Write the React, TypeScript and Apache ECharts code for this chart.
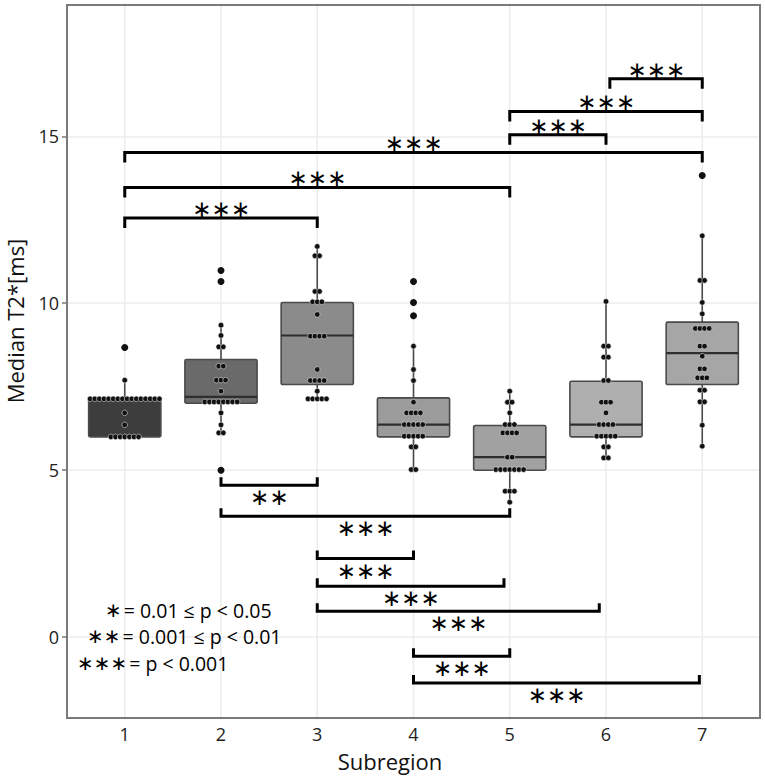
import React, { useEffect, useRef } from 'react';
import * as echarts from 'echarts';

// ---------- data ----------
const categories = [1, 2, 3, 4, 5, 6, 7];
const xTickLabels = ['1', '2', '3', '4', '5', '6', '7'];
const yTickValues = [0, 5, 10, 15];

// [min whisker, Q1, median, Q3, max whisker]
const box1 = [5.99, 5.99, 7.13, 7.15, 7.69];
const box2 = [6.09, 7.0, 7.19, 8.31, 9.34];
const box3 = [7.13, 7.56, 9.03, 10.02, 11.7];
const box4 = [5.0, 5.99, 6.36, 7.16, 8.71];
const box5 = [4.03, 4.99, 5.38, 6.33, 7.36];
const box6 = [5.36, 5.99, 6.36, 7.66, 10.05];
const box7 = [5.71, 7.56, 8.5, 9.43, 12.02];
const boxStats = [box1, box2, box3, box4, box5, box6, box7];
const boxColors = ['#3d3d3d', '#6a6a6a', '#8b8b8b', '#9b9b9b', '#a1a1a1', '#afafaf', '#a6a6a6'];

// dot rows per subregion: [value, number of points]
const dots1 = [[8.67, 1], [7.69, 1], [7.13, 16], [6.71, 1], [6.35, 1], [5.99, 7]];
const dots2 = [[10.98, 1], [10.65, 1], [9.34, 1], [9.03, 1], [8.69, 2], [8.11, 2], [7.69, 3], [7.36, 1], [7.04, 8], [6.71, 1], [6.35, 1], [6.11, 2], [4.99, 1]];
const dots3 = [[11.7, 1], [11.42, 2], [10.35, 2], [10.04, 3], [9.66, 1], [9.01, 4], [8.01, 1], [7.68, 4], [7.36, 1], [7.13, 5]];
const dots4 = [[10.65, 1], [10.02, 1], [9.62, 1], [8.71, 1], [8.01, 1], [7.68, 1], [7.03, 1], [6.71, 4], [6.36, 5], [6.01, 5], [5.69, 2], [5.01, 2]];
const dots5 = [[7.36, 1], [7.03, 2], [6.71, 1], [6.36, 3], [6.11, 4], [5.38, 2], [5.01, 7], [4.36, 3], [4.03, 1]];
const dots6 = [[10.05, 1], [8.71, 2], [8.38, 2], [7.68, 2], [7.03, 3], [6.71, 1], [6.36, 4], [6.01, 5], [5.69, 2], [5.36, 2]];
const dots7 = [[13.83, 1], [12.02, 1], [10.68, 2], [10.02, 1], [9.68, 1], [9.24, 4], [8.71, 2], [8.41, 1], [8.03, 2], [7.76, 3], [7.39, 2], [7.04, 2], [6.34, 1], [5.71, 1]];
const dotGroups = [dots1, dots2, dots3, dots4, dots5, dots6, dots7];

// boxplot outliers: [subregion, value]
const outliers = [[1, 8.67], [2, 10.98], [2, 10.65], [2, 4.99], [4, 10.65], [4, 10.02], [4, 9.62], [7, 13.83]];

// significance brackets: [from, to, y]
const topBrackets = [[6.04, 7, 16.73], [5, 7, 15.75], [5, 6, 15.05], [1, 7, 14.52], [1, 5, 13.47], [1, 3, 12.55]];
const topLabels = ['∗∗∗', '∗∗∗', '∗∗∗', '∗∗∗', '∗∗∗', '∗∗∗'];
const bottomBrackets = [[2, 3, 4.54], [2, 5, 3.61], [3, 4, 2.34], [3, 4.94, 1.51], [3, 5.93, 0.76], [4, 5, -0.59], [4, 6.97, -1.39]];
const bottomLabels = ['∗∗', '∗∗∗', '∗∗∗', '∗∗∗', '∗∗∗', '∗∗∗', '∗∗∗'];

const legendStars = ['∗', '∗∗', '∗∗∗'];
const legendTexts = ['= 0.01 ≤ p < 0.05', '= 0.001 ≤ p < 0.01', '= p < 0.001'];

const xTitle = 'Subregion';
const yTitle = 'Median T2*[ms]';

const DOT_STEP = 0.048;
const FONT = 'Open Sans';
const STAR_FONT = 'DejaVu Sans';

export default function App() {
  const ref = useRef<HTMLDivElement>(null);
  useEffect(() => {
    if (!ref.current) return;
    const chart = echarts.init(ref.current, null, { renderer: 'svg' });

    const dotData: number[][] = [];
    dotGroups.forEach((rows, gi) => {
      rows.forEach(([v, n]) => {
        for (let k = 0; k < n; k++) {
          dotData.push([categories[gi] + (k - (n - 1) / 2) * DOT_STEP, v]);
        }
      });
    });

    const bracketData = [
      ...topBrackets.map((b) => [b[0], b[1], b[2], 1]),
      ...bottomBrackets.map((b) => [b[0], b[1], b[2], -1]),
    ];
    const bracketLabels = [...topLabels, ...bottomLabels];

    const legendGraphics = legendStars.map((s, i) => ({
      type: 'text',
      left: [105, 87, 77][i],
      top: [600, 626, 653][i],
      z: 20,
      style: {
        text: `{a|${s}}{b|${legendTexts[i]}}`,
        rich: {
          a: { fontFamily: STAR_FONT, fontSize: 20, fill: '#000', padding: [0, 2, 0, 0], lineHeight: 18 },
          b: { fontFamily: FONT, fontSize: 19.5, fill: '#000', lineHeight: 18 },
        },
      },
    }));

    chart.setOption({
      animation: false,
      backgroundColor: '#fff',
      grid: { left: 67, right: 5, top: 3, bottom: 57 },
      xAxis: {
        type: 'value',
        min: 0.4,
        max: 7.6,
        axisLine: { show: false },
        axisTick: { show: false },
        splitLine: { show: false },
        axisLabel: {
          customValues: categories,
          formatter: (v: number) => xTickLabels[categories.indexOf(Math.round(v))] ?? '',
          fontFamily: FONT,
          fontSize: 18,
          color: '#222',
          margin: 5,
        },
      },
      yAxis: {
        type: 'value',
        min: -2.5,
        max: 19,
        interval: 2.5,
        axisLine: { show: false },
        axisTick: { show: true, customValues: yTickValues, length: 5, lineStyle: { color: '#777', width: 1.5 } },
        splitLine: { show: true, lineStyle: { color: '#ececec', width: 1.5 } },
        axisLabel: {
          customValues: yTickValues,
          fontFamily: FONT,
          fontSize: 18,
          color: '#222',
          margin: 8,
        },
      },
      series: [
        {
          type: 'custom',
          z: 0,
          silent: true,
          data: categories.map((c) => [c, 0]),
          encode: { x: 0, y: 1 },
          renderItem: (params: any, api: any) => {
            const p = api.coord([api.value(0), 0]);
            const cs = params.coordSys;
            return {
              type: 'line',
              shape: { x1: p[0], y1: cs.y, x2: p[0], y2: cs.y + cs.height },
              style: { stroke: '#ececec', lineWidth: 1.5 },
            };
          },
        },
        {
          type: 'custom',
          z: 2,
          silent: true,
          data: boxStats.map((s, i) => [categories[i], ...s]),
          encode: { x: 0, y: [1, 2, 3, 4, 5] },
          renderItem: (params: any, api: any) => {
            const x = api.value(0);
            const pMin = api.coord([x, api.value(1)]);
            const pQ1 = api.coord([x, api.value(2)]);
            const pMed = api.coord([x, api.value(3)]);
            const pQ3 = api.coord([x, api.value(4)]);
            const pMax = api.coord([x, api.value(5)]);
            const half = api.size([1, 0])[0] * 0.375;
            const cx = pMin[0];
            const ls = { stroke: '#4a4a4a', lineWidth: 1.6 };
            return {
              type: 'group',
              children: [
                { type: 'line', shape: { x1: cx, y1: pMax[1], x2: cx, y2: pQ3[1] }, style: ls },
                { type: 'line', shape: { x1: cx, y1: pQ1[1], x2: cx, y2: pMin[1] }, style: ls },
                {
                  type: 'rect',
                  shape: { x: cx - half, y: pQ3[1], width: half * 2, height: pQ1[1] - pQ3[1], r: 1.5 },
                  style: { fill: boxColors[params.dataIndex], stroke: '#4a4a4a', lineWidth: 1.6 },
                },
                {
                  type: 'line',
                  shape: { x1: cx - half, y1: pMed[1], x2: cx + half, y2: pMed[1] },
                  style: { stroke: '#2e2e2e', lineWidth: 2.2 },
                },
              ],
            };
          },
        },
        {
          type: 'scatter',
          z: 3,
          silent: true,
          symbolSize: 5.5,
          data: dotData,
          itemStyle: { color: '#111', borderColor: 'rgba(225,225,225,0.75)', borderWidth: 0.8, opacity: 1 },
        },
        {
          type: 'scatter',
          z: 4,
          silent: true,
          symbolSize: 7,
          data: outliers,
          itemStyle: { color: '#111', opacity: 1 },
        },
        {
          type: 'custom',
          z: 5,
          silent: true,
          data: bracketData,
          encode: { x: [0, 1], y: 2 },
          renderItem: (params: any, api: any) => {
            const y = api.value(2);
            const dir = api.value(3);
            const p1 = api.coord([api.value(0), y]);
            const p2 = api.coord([api.value(1), y]);
            const t = dir > 0 ? 10 : -8;
            return {
              type: 'group',
              children: [
                {
                  type: 'polyline',
                  shape: { points: [[p1[0], p1[1] + t], [p1[0], p1[1]], [p2[0], p2[1]], [p2[0], p2[1] + t]] },
                  style: { stroke: '#000', lineWidth: 3, fill: null, lineJoin: 'miter' },
                },
                {
                  type: 'text',
                  x: (p1[0] + p2[0]) / 2,
                  y: p1[1] + (dir > 0 ? -9 : 12),
                  style: {
                    text: bracketLabels[params.dataIndex],
                    fontFamily: STAR_FONT,
                    fontSize: 23,
                    fill: '#000',
                    align: 'center',
                    verticalAlign: 'middle',
                  },
                },
              ],
            };
          },
        },
      ],
      graphic: [
        {
          type: 'rect',
          z: 10,
          silent: true,
          shape: { x: 67, y: 5, width: 693, height: 713 },
          style: { fill: 'none', stroke: '#7a7a7a', lineWidth: 2 },
        },
        {
          type: 'text',
          z: 10,
          x: 390,
          y: 761,
          style: { text: xTitle, fontFamily: FONT, fontSize: 22, fill: '#111', align: 'center', verticalAlign: 'middle' },
        },
        {
          type: 'text',
          z: 10,
          x: 15,
          y: 321,
          rotation: Math.PI / 2,
          style: { text: yTitle, fontFamily: FONT, fontSize: 22, fill: '#111', align: 'center', verticalAlign: 'middle' },
        },
        ...legendGraphics,
      ],
    });
    return () => chart.dispose();
  }, []);
  return <div ref={ref} style={{ position: 'fixed', left: 0, top: 0, width: 765, height: 777 }} />;
}
